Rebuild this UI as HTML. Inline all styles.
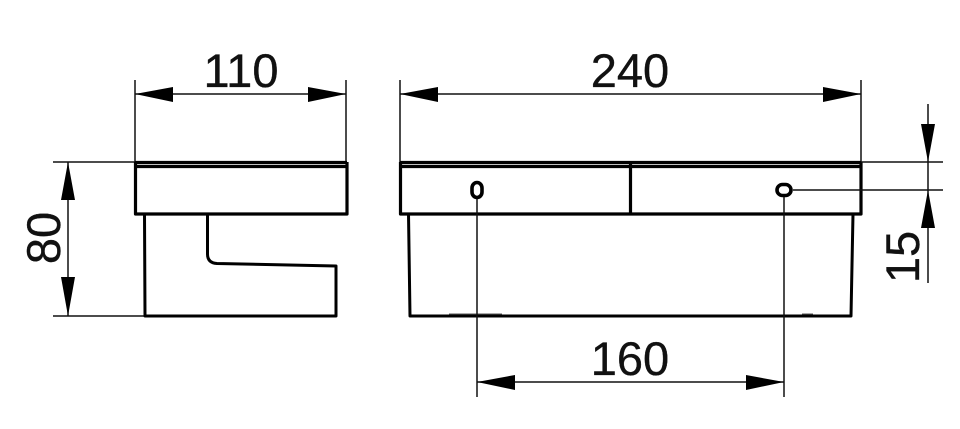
<!DOCTYPE html>
<html>
<head>
<meta charset="utf-8">
<style>
html,body{margin:0;padding:0;background:#fff;width:960px;height:429px;overflow:hidden}
svg{display:block}
text{font-family:"Liberation Sans",sans-serif;font-size:47px;fill:#111;stroke:#111;stroke-width:.35;text-anchor:middle}
.thin{stroke:#111;stroke-width:1.5;fill:none}
.thick{stroke:#000;stroke-width:3.2;fill:none;stroke-linejoin:round}
.med{stroke:#000;stroke-width:3;fill:none;stroke-linejoin:round}
.a{fill:#000;stroke:none}
</style>
</head>
<body>
<svg width="960" height="429" viewBox="0 0 960 429" xmlns="http://www.w3.org/2000/svg">
<rect width="960" height="429" fill="#fff"/>

<!-- Left view -->
<path class="thin" d="M135 80V162M346 80V162M135 94H346"/>
<path class="a" d="M135 94L173 87V102ZM346 94L308 87V102Z"/>
<path class="thin" d="M53 162H135M53 316H145M68 162V316"/>
<path class="a" d="M68 162L61 200H75ZM68 316L61 277H75Z"/>
<path class="thick" d="M135 162.500H347M135 166.500H347"/>
<path class="thick" d="M135.500 162V214H347V162"/>
<path class="med" d="M144.500 214L145 316H336V266L217 263.500Q207.500 263 207.500 254V214"/>
<text x="241" y="87">110</text>
<text transform="translate(60 238) rotate(-90)" x="0" y="0">80</text>

<!-- Right view -->
<path class="thin" d="M400 80V162M861 80V162M400 94H861"/>
<path class="a" d="M400 94L438 87V102ZM861 94L823 87V102Z"/>
<path class="thick" d="M400 162.500H861M400 166.500H861"/>
<path class="thick" d="M400.500 162V214H861V162M630.500 164V214"/>
<path class="med" d="M408.500 214L410 316H851L853 214"/>
<path stroke="#555" stroke-width="1" fill="none" d="M449 314H502M802 314H813"/>
<rect x="472" y="182.500" width="10" height="15" rx="5" ry="5.500" fill="#fff" stroke="#000" stroke-width="3.600"/>
<rect x="777" y="184.500" width="14" height="11" rx="5.500" ry="5.500" fill="#fff" stroke="#000" stroke-width="3.600"/>

<!-- 240 -->
<text x="630" y="87">240</text>

<!-- 160 -->
<path class="thin" d="M477 199V397M784 197V397"/>
<path class="thin" d="M477 382H784"/>
<path class="a" d="M477 382L515 375V390ZM784 382L746 375V390Z"/>
<text x="630" y="375">160</text>

<!-- 15 -->
<path class="thin" d="M861 162H943M793 190H943M928 104V283"/>
<path class="a" d="M928 162L921 124H935ZM928 190L921 228H935Z"/>
<text transform="translate(919 257) rotate(-90)" x="0" y="0">15</text>
</svg>
</body>
</html>
